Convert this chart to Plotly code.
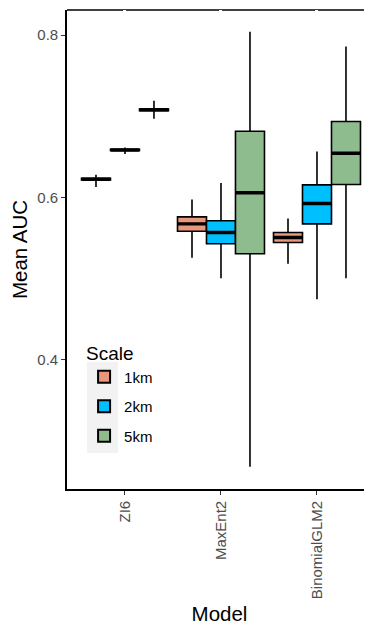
import plotly.graph_objects as go

models = ["ZI6", "MaxEnt2", "BinomialGLM2"]
scales = ["1km", "2km", "5km"]
colors = {"1km": "#E9967A", "2km": "#00BFFF", "5km": "#8FBC8F"}

# per scale: values for each model (ZI6, MaxEnt2, BinomialGLM2)
q1 = {
    "1km": [0.6215, 0.5585, 0.5446],
    "2km": [0.6578, 0.543, 0.5676],
    "5km": [0.707, 0.5307, 0.616],
}
median = {
    "1km": [0.6225, 0.5676, 0.5508],
    "2km": [0.6585, 0.5569, 0.5926],
    "5km": [0.708, 0.6058, 0.6545],
}
q3 = {
    "1km": [0.6235, 0.5762, 0.5569],
    "2km": [0.6592, 0.5713, 0.6156],
    "5km": [0.709, 0.6816, 0.6935],
}
lower = {
    "1km": [0.613, 0.5258, 0.5184],
    "2km": [0.6535, 0.5007, 0.4749],
    "5km": [0.697, 0.2686, 0.5007],
}
upper = {
    "1km": [0.628, 0.5975, 0.5742],
    "2km": [0.6615, 0.618, 0.6566],
    "5km": [0.719, 0.8039, 0.7858],
}

fig = go.Figure()
for s in scales:
    fig.add_trace(go.Box(
        name=s, x=models, q1=q1[s], median=median[s], q3=q3[s],
        lowerfence=lower[s], upperfence=upper[s],
        fillcolor=colors[s], line=dict(color="black", width=1.6),
        whiskerwidth=0, boxpoints=False, offsetgroup=s, legendgroup=s,
    ))
# thicker median bars (ggplot style), drawn as zero-height boxes at the median
for s in scales:
    fig.add_trace(go.Box(
        name=s, x=models, q1=median[s], median=median[s], q3=median[s],
        lowerfence=median[s], upperfence=median[s],
        fillcolor="rgba(0,0,0,0)", line=dict(color="black", width=3.4),
        whiskerwidth=0, boxpoints=False, offsetgroup=s, legendgroup=s,
        showlegend=False, hoverinfo="skip",
    ))
# invisible trace on the top axis (for the small gaps in the top border)
fig.add_trace(go.Scatter(x=models, y=median["1km"], xaxis="x2", mode="markers",
                         marker=dict(opacity=0), showlegend=False, hoverinfo="skip"))

fig.update_layout(
    width=364, height=617,
    margin=dict(l=59, r=0, t=2, b=136),
    plot_bgcolor="white", paper_bgcolor="white",
    boxmode="group", boxgap=0.094, boxgroupgap=0,
    font=dict(family="Liberation Sans, Arial", color="black"),
    legend=dict(
        title=dict(text="Scale", font=dict(size=19, color="black")),
        x=0.056, y=0.32, xanchor="left", yanchor="top",
        bgcolor="rgba(0,0,0,0)", font=dict(size=15, color="black"),
        tracegroupgap=7, itemsizing="constant",
    ),
    xaxis=dict(
        range=[-0.604, 2.573], showline=True, linecolor="black", linewidth=1.6,
        ticks="outside", ticklen=4, tickcolor="#333333", tickangle=-90,
        tickfont=dict(size=15, color="#4D4D4D"), showgrid=False, zeroline=False,
        title=dict(text="Model", font=dict(size=20.5, color="black"), standoff=12),
    ),
    xaxis2=dict(
        overlaying="x", side="top", matches="x", showline=False,
        ticks="inside", ticklen=3, tickwidth=2.5, tickcolor="white",
        showticklabels=False, showgrid=False, zeroline=False,
    ),
    yaxis=dict(
        range=[0.2412, 0.8308], showline=True, linecolor="black", linewidth=1.6,
        tickvals=[0.4, 0.6, 0.8], ticktext=["0.4", "0.6", "0.8"],
        ticks="outside", ticklen=4, tickcolor="#333333",
        tickfont=dict(size=15, color="#4D4D4D"), showgrid=False, zeroline=False,
        title=dict(text="Mean AUC", font=dict(size=20.5, color="black"), standoff=4),
    ),
    shapes=[
        dict(type="line", xref="paper", yref="paper", x0=0, x1=1, y0=1, y1=1,
             line=dict(color="black", width=1.6), layer="below"),
        dict(type="rect", xref="paper", yref="paper", x0=0.0656, x1=0.1672,
             y0=0.0752, y1=0.2658, fillcolor="#F2F2F2", line=dict(width=0),
             layer="below"),
    ],
)

fig.write_html("out.html")
